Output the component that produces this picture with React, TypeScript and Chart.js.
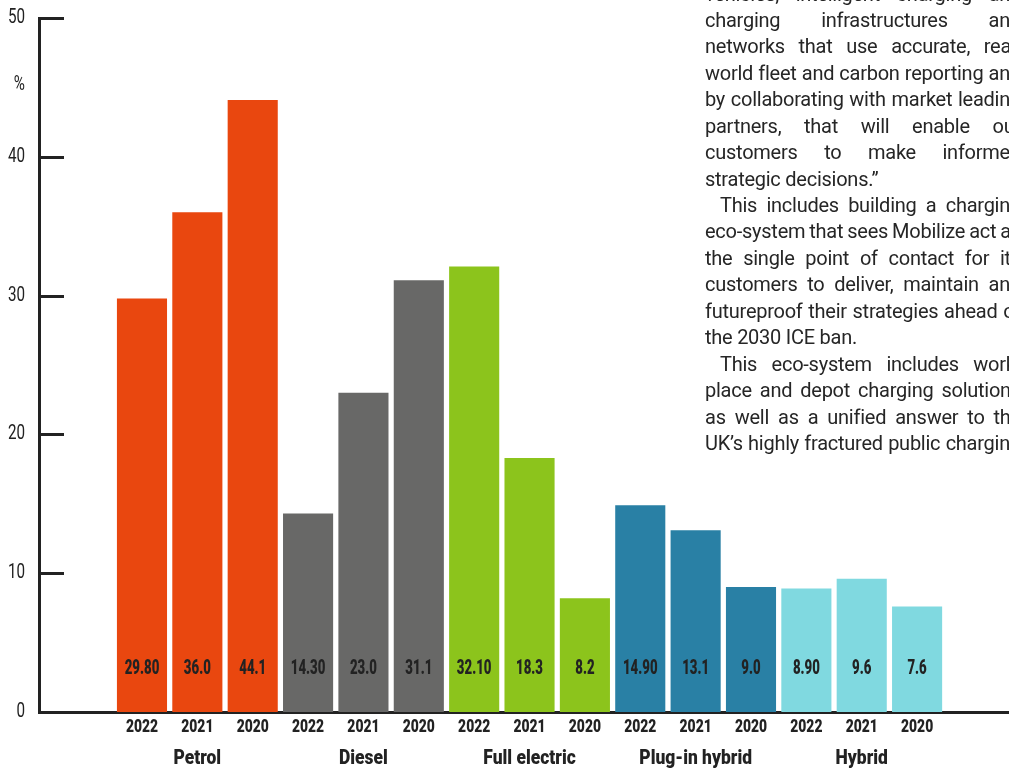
import { useEffect, useRef } from "react";
import { Chart, registerables } from "chart.js";

Chart.register(...registerables);

// ---- chart data ----
const years = ["2022", "2021", "2020"];
const labelDecimals = [2, 1, 1];
const groups = ["Petrol", "Diesel", "Full electric", "Plug-in hybrid", "Hybrid"];
const groupColors = ["#e9470f", "#686867", "#8cc41c", "#2980a5", "#80d9e0"];
const petrol = [29.8, 36.0, 44.1];
const diesel = [14.3, 23.0, 31.1];
const fullElectric = [32.1, 18.3, 8.2];
const plugInHybrid = [14.9, 13.1, 9.0];
const hybrid = [8.9, 9.6, 7.6];
const yTicks = [0, 10, 20, 30, 40, 50];

const groupValues = [petrol, diesel, fullElectric, plugInHybrid, hybrid];

// ---- article column beside the chart ----
type Line = { text: string; justify: boolean; indent?: boolean };
const articleLines: Line[] = [
  { text: "vehicles, intelligent charging and", justify: true },
  { text: "charging infrastructures and", justify: true },
  { text: "networks that use accurate, real-", justify: true },
  { text: "world fleet and carbon reporting and", justify: true },
  { text: "by collaborating with market leading", justify: true },
  { text: "partners, that will enable our", justify: true },
  { text: "customers to make informed", justify: true },
  { text: "strategic decisions.\u201d", justify: false },
  { text: "This includes building a charging", justify: true, indent: true },
  { text: "eco-system that sees Mobilize act as", justify: true },
  { text: "the single point of contact for its", justify: true },
  { text: "customers to deliver, maintain and", justify: true },
  { text: "futureproof their strategies ahead of", justify: true },
  { text: "the 2030 ICE ban.", justify: false },
  { text: "This eco-system includes work-", justify: true, indent: true },
  { text: "place and depot charging solutions", justify: true },
  { text: "as well as a unified answer to the", justify: true },
  { text: "UK\u2019s highly fractured public charging", justify: true },
];

const FONT = "Roboto, 'DejaVu Sans', sans-serif";
const INK = "#222222";

const points: { x: number; y: number }[] = [];
const barColors: string[] = [];
const tickYear: string[] = [];
const valueText: string[] = [];
groupValues.forEach((vals, g) => {
  vals.forEach((v, j) => {
    points.push({ x: g * 3 + j, y: v });
    barColors.push(groupColors[g]);
    tickYear.push(years[j]);
    valueText.push(v.toFixed(labelDecimals[j]));
  });
});

// Horizontally narrowed text, giving the condensed look of the labels.
function narrowText(
  ctx: CanvasRenderingContext2D,
  text: string,
  x: number,
  y: number,
  font: string,
  sx: number,
  align: CanvasTextAlign
) {
  ctx.save();
  ctx.translate(x, y);
  ctx.scale(sx, 1);
  ctx.font = font;
  ctx.textAlign = align;
  ctx.textBaseline = "middle";
  ctx.fillText(text, 0, 0);
  ctx.restore();
}

// Value labels near the foot of each bar, axis labels, inward y ticks and the unit.
const decorations = {
  id: "decorations",
  afterDatasetsDraw(chart: any) {
    const { ctx, chartArea } = chart;
    const meta = chart.getDatasetMeta(0);
    ctx.save();
    ctx.fillStyle = INK;
    meta.data.forEach((bar: any, i: number) => {
      narrowText(ctx, valueText[i], bar.x, chartArea.bottom - 43, `900 20px ${FONT}`, 0.66, "center");
    });
    ctx.restore();
  },
  afterDraw(chart: any) {
    const { ctx, chartArea, scales } = chart;
    const x = scales.x;
    const y = scales.y;
    ctx.save();
    // inward tick marks on the value axis
    ctx.strokeStyle = INK;
    ctx.lineWidth = 3;
    yTicks.forEach((t) => {
      const py = Math.round(y.getPixelForValue(t)) + 0.5;
      ctx.beginPath();
      ctx.moveTo(chartArea.left, py);
      ctx.lineTo(chartArea.left + 25, py);
      ctx.stroke();
    });
    ctx.fillStyle = INK;
    // value axis labels
    yTicks.forEach((t) => {
      narrowText(ctx, String(t), chartArea.left - 14, y.getPixelForValue(t), `20px ${FONT}`, 0.76, "right");
    });
    // unit label
    narrowText(ctx, "%", chartArea.left - 14, y.getPixelForValue(45.2), `20px ${FONT}`, 0.76, "right");
    // year under every bar
    points.forEach((p, i) => {
      narrowText(ctx, tickYear[i], x.getPixelForValue(p.x), chartArea.bottom + 15, `900 19px ${FONT}`, 0.73, "center");
    });
    // group names under the middle year of each group
    groups.forEach((name, g) => {
      narrowText(ctx, name, x.getPixelForValue(g * 3 + 1), chartArea.bottom + 47, `900 21px ${FONT}`, 0.83, "center");
    });
    ctx.restore();
  },
};

export default function App() {
  const ref = useRef<HTMLCanvasElement>(null);

  useEffect(() => {
    const chart = new Chart(ref.current as HTMLCanvasElement, {
      type: "bar",
      data: {
        datasets: [
          {
            data: points as any,
            backgroundColor: barColors,
            borderWidth: 0,
            barPercentage: 0.905,
            categoryPercentage: 1,
          },
        ],
      },
      options: {
        responsive: false,
        animation: false,
        devicePixelRatio: 1,
        layout: { padding: { top: 18, right: 0, left: 0, bottom: 0 } },
        plugins: { legend: { display: false }, tooltip: { enabled: false } },
        scales: {
          x: {
            type: "linear",
            offset: false,
            min: -1.86,
            max: 15.66,
            grid: { display: false, drawTicks: false },
            border: { display: true, width: 3, color: INK },
            ticks: { display: false },
            afterFit: (s: any) => {
              s.height = 57;
              s.paddingLeft = 0;
              s.paddingRight = 0;
            },
          },
          y: {
            min: 0,
            max: 50,
            grid: { display: false, drawTicks: false },
            border: { display: true, width: 3, color: INK },
            ticks: { display: false },
            afterFit: (s: any) => {
              s.width = 39;
              s.paddingTop = 0;
              s.paddingBottom = 0;
            },
          },
        },
      },
      plugins: [decorations],
    });
    return () => chart.destroy();
  }, []);

  return (
    <div
      style={{
        position: "fixed",
        left: 0,
        top: 0,
        width: 1009,
        height: 769,
        overflow: "hidden",
        background: "#ffffff",
      }}
    >
      <canvas
        ref={ref}
        width={1009}
        height={769}
        style={{ position: "absolute", left: 0, top: 0 }}
      />
      <div
        style={{
          position: "absolute",
          left: 705,
          top: -19.5,
          width: 316,
          fontFamily: "Roboto, 'Noto Sans', sans-serif",
          fontSize: 20,
          letterSpacing: "-0.25px",
          lineHeight: "26.45px",
          color: "#262626",
        }}
      >
        {articleLines.map((ln, i) =>
          ln.justify ? (
            <div
              key={i}
              style={{
                display: "flex",
                justifyContent: "space-between",
                whiteSpace: "nowrap",
                paddingLeft: ln.indent ? 15 : 0,
                height: 26.45,
              }}
            >
              {ln.text.split(" ").map((w, k) => (
                <span key={k}>{w}</span>
              ))}
            </div>
          ) : (
            <div key={i} style={{ whiteSpace: "nowrap", height: 26.45 }}>
              {ln.text}
            </div>
          )
        )}
      </div>
    </div>
  );
}
